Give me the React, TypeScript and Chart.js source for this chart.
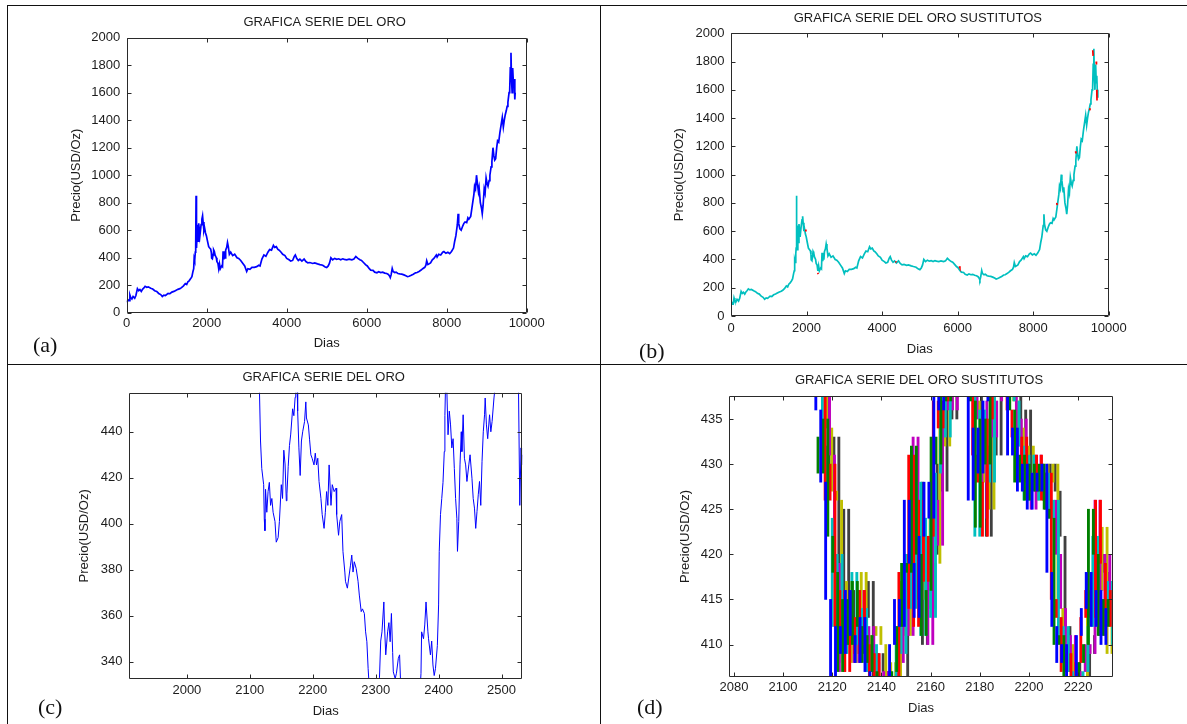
import React, { useEffect, useRef } from "react";
import { Chart, registerables } from "chart.js";

Chart.register(...registerables);

const PAGE_W = 1187;
const PAGE_H = 724;

// ---------- Full gold series (panels a, b) ----------
const fullDays = [
  0, 30, 60, 80, 100, 130, 160, 200, 230, 268, 300, 330, 364, 400, 430, 460, 500, 540, 600, 650,
  700, 750, 800, 850, 890, 930, 970, 1035, 1080, 1130, 1180, 1226, 1280, 1330, 1370, 1420, 1465, 1500, 1530, 1560,
  1600, 1630, 1657, 1675, 1686, 1700, 1715, 1725, 1734, 1740, 1750, 1770, 1790, 1800, 1830, 1860, 1880, 1897, 1910, 1930,
  1945, 1970, 1992, 2020, 2050, 2075, 2100, 2117, 2124, 2142, 2160, 2173, 2190, 2210, 2240, 2255, 2280, 2300, 2320, 2340,
  2375, 2395, 2410, 2430, 2440, 2459, 2474, 2500, 2520, 2540, 2567, 2600, 2650, 2700, 2758, 2800, 2850, 2900, 2950, 3000,
  3030, 3080, 3130, 3190, 3250, 3300, 3333, 3380, 3430, 3480, 3530, 3573, 3620, 3668, 3700, 3740, 3780, 3812, 3860, 3900,
  3956, 4000, 4060, 4100, 4148, 4190, 4215, 4250, 4290, 4330, 4380, 4435, 4480, 4530, 4580, 4650, 4700, 4770, 4830, 4900,
  4962, 5000, 5038, 5070, 5105, 5150, 5200, 5250, 5300, 5350, 5400, 5440, 5500, 5560, 5630, 5680, 5728, 5780, 5830, 5870,
  5920, 5970, 6015, 6060, 6100, 6158, 6200, 6255, 6300, 6350, 6400, 6450, 6500, 6542, 6570, 6590, 6610, 6638, 6660, 6700,
  6734, 6780, 6830, 6877, 6930, 6980, 7020, 7060, 7100, 7165, 7220, 7260, 7308, 7360, 7400, 7452, 7480, 7500, 7530, 7560,
  7596, 7640, 7680, 7740, 7760, 7800, 7850, 7900, 7930, 7980, 8030, 8075, 8120, 8170, 8200, 8230, 8266, 8285, 8300, 8330,
  8362, 8400, 8430, 8458, 8500, 8530, 8553, 8600, 8630, 8650, 8680, 8697, 8720, 8745, 8760, 8793, 8810, 8841, 8870, 8889,
  8910, 8937, 8960, 8985, 9010, 9033, 9060, 9080, 9110, 9130, 9157, 9180, 9200, 9224, 9250, 9272, 9300, 9330, 9368, 9390,
  9416, 9440, 9464, 9490, 9511, 9530, 9559, 9575, 9590, 9607, 9620, 9636, 9645, 9655, 9670, 9685, 9703, 9712,
];
const fullPrices = [
  75, 95, 88, 128, 110, 100, 118, 105, 125, 175, 160, 168, 155, 172, 180, 192, 185, 188, 178, 172,
  160, 155, 140, 132, 118, 128, 125, 140, 138, 150, 155, 162, 170, 175, 182, 195, 212, 205, 225, 232,
  248, 262, 300, 320, 395, 380, 440, 480, 850, 560, 470, 640, 520, 650, 560, 640, 680, 705, 660, 600,
  620, 580, 560, 520, 480, 470, 462, 436, 397, 392, 420, 457, 446, 418, 400, 372, 360, 320, 355, 320,
  340, 334, 447, 388, 447, 398, 455, 475, 510, 480, 425, 440, 415, 425, 400, 395, 380, 360, 340, 300,
  320, 315, 330, 330, 335, 345, 340, 390, 420, 410, 440, 460, 455, 490, 475, 480, 460, 455, 440, 425,
  415, 395, 385, 375, 380, 410, 420, 395, 380, 390, 375, 390, 372, 362, 365, 358, 362, 355, 350, 345,
  332, 328, 340, 360, 400, 385, 395, 388, 392, 385, 392, 388, 385, 390, 385, 390, 408, 395, 385, 380,
  365, 350, 340, 322, 310, 308, 295, 290, 298, 292, 295, 288, 285, 278, 268, 255, 275, 322, 300, 292,
  295, 285, 282, 280, 275, 268, 262, 265, 270, 280, 290, 292, 300, 310, 320, 330, 345, 378, 350, 355,
  362, 385, 395, 420, 405, 425, 420, 440, 445, 432, 440, 430, 445, 470, 520, 560, 640, 720, 650, 610,
  600, 630, 650, 660, 655, 690, 680, 700, 760, 800, 860, 920, 900, 1000, 960, 880, 910, 800, 760, 720,
  780, 900, 870, 980, 940, 920, 960, 1000, 1060, 1100, 1200, 1140, 1110, 1120, 1200, 1250, 1240, 1310, 1380, 1420,
  1350, 1400, 1440, 1470, 1500, 1530, 1600, 1620, 1780, 1890, 1700, 1600, 1720, 1780, 1650, 1700, 1550, 1600,
];
const fullXTicks = [0, 2000, 4000, 6000, 8000, 10000];
const fullYTicks = [0, 200, 400, 600, 800, 1000, 1200, 1400, 1600, 1800, 2000];

// Short surrogate pieces that show through in red on panel (b); null breaks the line
const redPieceDays = [1975, 1990, 1991, 2295, 2310, 2311, 4360, 4372, 4373, 6045, 6060, 6061, 8625, 8635, 8636, 9122, 9132, 9133, 9498, 9508, 9509, 9578, 9588, 9589, 9668, 9676, 9677, 9684, 9690];
const redPiecePrices = [612, 598, null, 305, 296, null, 388, 378, null, 352, 342, null, 800, 785, null, 1165, 1150, null, 1470, 1455, null, 1880, 1840, null, 1800, 1780, null, 1600, 1525];

// ---------- Zoomed gold series (panel c) ----------
const zoomDays = [
  1908, 1930, 1950, 1975, 2000, 2030, 2060, 2090, 2110, 2115, 2117, 2119, 2122, 2123, 2124, 2125, 2127, 2129, 2131, 2133,
  2135, 2137, 2140, 2142, 2145, 2147, 2150, 2152, 2154, 2156, 2158, 2159, 2161, 2163, 2165, 2168, 2170, 2172, 2173, 2175,
  2176, 2178, 2180, 2182, 2184, 2187, 2189, 2190, 2193, 2195, 2197, 2199, 2202, 2204, 2206, 2208, 2210, 2213, 2215, 2218,
  2220, 2222, 2224, 2226, 2229, 2231, 2234, 2237, 2238, 2241, 2243, 2246, 2248, 2251, 2252, 2255, 2257, 2260, 2262, 2264,
  2266, 2269, 2272, 2274, 2277, 2279, 2282, 2284, 2286, 2288, 2290, 2295, 2300, 2305, 2306, 2308, 2310, 2313, 2314, 2316,
  2319, 2321, 2323, 2325, 2327, 2328, 2331, 2333, 2336, 2338, 2340, 2350, 2360, 2370, 2372, 2373, 2376, 2378, 2380, 2383,
  2384, 2387, 2389, 2391, 2393, 2395, 2398, 2400, 2401, 2403, 2405, 2407, 2409, 2410, 2411, 2413, 2415, 2417, 2419, 2421,
  2423, 2425, 2427, 2429, 2430, 2432, 2434, 2436, 2437, 2439, 2441, 2443, 2445, 2448, 2450, 2453, 2455, 2457, 2459, 2461,
  2463, 2465, 2467, 2469, 2471, 2473, 2474, 2476, 2478, 2481, 2483, 2485, 2488, 2490, 2495, 2505, 2515, 2525, 2527, 2529,
  2531, 2532, 2533,
];
const zoomPrices = [
  700, 620, 640, 590, 560, 530, 500, 480, 470, 462, 436, 424, 417, 402, 397, 415, 405, 414, 418, 408,
  411, 405, 401, 392, 394, 401, 417, 411, 432, 426, 410, 413, 425, 434, 439, 450, 447, 455, 460, 462,
  449, 433, 421, 436, 440, 444.5, 453, 446, 443, 436.5, 430, 428.5, 425.6, 430.7, 425.6, 428.5, 418.4, 411, 404, 398,
  405, 414, 408, 425.6, 408, 417, 414, 415.5, 404, 395, 401, 404, 388, 379, 375, 372, 376, 382, 386.4, 379,
  383.5, 380.6, 375, 369, 361.8, 363, 361, 353, 348.7, 337, 328, 322, 318, 325, 333, 349, 353, 366, 356, 343,
  353, 357, 348.7, 361, 344, 335.6, 332.7, 335, 341.5, 343, 328, 320, 318, 325, 335, 353, 350, 356, 366, 353,
  350, 343, 349, 338.6, 334, 337, 347, 364.7, 388, 404, 411, 418, 431.4, 447, 460, 459, 438.7, 449, 443, 433,
  437, 424, 411, 402.4, 388, 401, 425.6, 440, 431.4, 447.4, 428.5, 425.6, 418.4, 425.6, 430, 419.8, 411, 406.8, 398, 405.3,
  412.6, 418.4, 408, 427, 440, 447.4, 454.7, 443, 437, 447.4, 440, 444.5, 454.7, 460, 470, 475, 468, 462, 458, 408,
  433, 425.6, 430,
];
const zoomXTicks = [2000, 2100, 2200, 2300, 2400, 2500];
const zoomYTicks = [340, 360, 380, 400, 420, 440];

// ---------- Surrogate series (panel d) ----------
const surDays = [
  2114, 2116, 2118, 2120, 2122, 2124, 2126, 2128, 2130, 2132, 2134, 2136, 2138, 2140, 2142, 2144, 2146, 2148, 2150, 2152,
  2154, 2156, 2158, 2160, 2162, 2164, 2166, 2168, 2170, 2172, 2174, 2176, 2178, 2180, 2182, 2184, 2186, 2188, 2190, 2192,
  2194, 2196, 2198, 2200, 2202, 2204, 2206, 2208, 2210, 2212, 2214, 2216, 2218, 2220, 2222, 2224, 2226, 2228, 2230, 2232,
  2234,
];
const surBlue = [445, 436, 428, 415, 406, 412, 409, 416, 411, 408, 413, 407, 405, 402, 398, 401, 410, 415, 412, 426, 419, 413, 422, 428, 424, 438, 436, 442, 446, 452, 449, 440, 426, 434, 429, 437, 441, 446, 444, 438, 431, 434, 427, 430, 425, 429, 427, 430, 418, 412, 408, 410, 403, 406, 411, 414, 418, 412, 416, 410, 414];
const surGreen = [433, 429, 435, 422, 418, 407, 415, 410, 417, 412, 408, 411, 407, 404, 401, 399, 407, 412, 419, 418, 432, 420, 411, 416, 433, 430, 441, 437, 449, 448, 451, 443, 437, 423, 435, 430, 438, 444, 446, 440, 436, 428, 431, 426, 430, 427, 430, 425, 424, 410, 411, 406, 404, 404, 408, 410, 425, 420, 411, 415, 412];
const surRed = [450, 442, 426, 430, 412, 416, 407, 413, 409, 416, 410, 406, 409, 401, 403, 404, 404, 418, 414, 431, 412, 426, 417, 422, 437, 434, 437, 444, 445, 450, 446, 438, 431, 428, 422, 435, 443, 447, 442, 436, 433, 430, 433, 428, 427, 431, 426, 429, 415, 413, 407, 409, 402, 408, 413, 416, 413, 426, 419, 412, 416];
const surCyan = [441, 432, 424, 412, 420, 409, 413, 418, 410, 414, 407, 410, 406, 405, 400, 402, 412, 409, 420, 414, 428, 411, 424, 413, 429, 440, 433, 439, 448, 447, 452, 444, 422, 436, 431, 428, 440, 443, 445, 439, 437, 432, 426, 431, 428, 426, 429, 424, 426, 411, 412, 407, 405, 405, 407, 412, 422, 415, 413, 417, 410];
const surMagenta = [448, 438, 431, 419, 407, 414, 411, 408, 416, 410, 412, 408, 404, 407, 397, 400, 408, 416, 411, 433, 422, 418, 410, 426, 421, 436, 440, 436, 444, 453, 448, 441, 435, 424, 437, 433, 437, 445, 447, 441, 430, 435, 429, 425, 431, 428, 427, 426, 420, 414, 409, 411, 401, 407, 410, 409, 426, 411, 420, 413, 415];
const surYellow = [452, 434, 427, 426, 414, 417, 408, 412, 418, 409, 411, 412, 410, 403, 408, 405, 417, 411, 417, 422, 415, 424, 414, 419, 435, 432, 438, 441, 447, 449, 450, 437, 428, 432, 425, 439, 442, 448, 443, 437, 434, 427, 432, 429, 426, 430, 428, 430, 414, 409, 410, 405, 404, 403, 414, 415, 416, 423, 409, 416, 413];
const surBlack = [444, 430, 433, 408, 425, 410, 416, 409, 413, 417, 406, 409, 407, 400, 402, 398, 406, 420, 415, 428, 410, 416, 420, 430, 427, 439, 435, 438, 450, 451, 447, 445, 433, 422, 436, 431, 439, 444, 446, 440, 432, 436, 428, 427, 429, 425, 430, 427, 422, 412, 407, 408, 403, 406, 409, 411, 420, 418, 415, 409, 417];
const surXTicks = [2080, 2100, 2120, 2140, 2160, 2180, 2200, 2220];
const surYTicks = [410, 415, 420, 425, 430, 435];

// ---------- helpers ----------
const FONT_FAMILY = '"Liberation Sans", Arial, Helvetica, sans-serif';
const TEXT_COLOR = "#1c1c1c";
const Y_AXIS_BOX = 60;
const X_AXIS_BOX = 30;

const toPoints = (xs: number[], ys: (number | null)[]) => xs.map((x, i) => ({ x, y: ys[i] }));

// vertical jump of a step plot: from the previous day's value to the current one
const toSteps = (xs: number[], ys: number[]) =>
  xs.slice(1).map((x, i) => ({ x, y: [ys[i], ys[i + 1]] }));

const framePlugin = {
  id: "matlabFrame",
  afterDatasetsDraw(chart: any, _args: any, opts: any) {
    const { ctx, chartArea: a } = chart;
    const xs = chart.scales.x;
    const ys = chart.scales.y;
    const l = Math.round(a.left) + 0.5;
    const r = Math.round(a.right) - 0.5;
    const t = Math.round(a.top) + 0.5;
    const b = Math.round(a.bottom) - 0.5;
    const tl = 4;
    ctx.save();
    ctx.strokeStyle = "#2a2a2a";
    ctx.lineWidth = 1;
    ctx.beginPath();
    ctx.rect(l, t, r - l, b - t);
    xs.ticks.forEach((tk: any) => {
      const px = Math.round(xs.getPixelForValue(tk.value)) + 0.5;
      ctx.moveTo(px, b);
      ctx.lineTo(px, b - tl);
      ctx.moveTo(px, t);
      ctx.lineTo(px, t + tl);
    });
    ys.ticks.forEach((tk: any) => {
      const py = Math.round(ys.getPixelForValue(tk.value)) + 0.5;
      ctx.moveTo(l, py);
      ctx.lineTo(l + tl, py);
      ctx.moveTo(r, py);
      ctx.lineTo(r - tl, py);
    });
    ctx.stroke();
    ctx.restore();
  },
  afterDraw(chart: any, _args: any, opts: any) {
    const { ctx, chartArea: a } = chart;
    const cx = (a.left + a.right) / 2;
    const cy = (a.top + a.bottom) / 2;
    ctx.save();
    ctx.fillStyle = TEXT_COLOR;
    ctx.font = `13px ${FONT_FAMILY}`;
    ctx.textAlign = "center";
    ctx.textBaseline = "middle";
    ctx.fillText(opts.title, cx + (opts.titleDX || 0), opts.titleY);
    ctx.fillText(opts.xlabel, cx, opts.xlabelY);
    ctx.translate(opts.ylabelX, cy);
    ctx.rotate(-Math.PI / 2);
    ctx.fillText(opts.ylabel, 0, 0);
    ctx.restore();
  },
};

type PanelSpec = {
  left: number;
  right: number;
  top: number;
  bottom: number;
  xMin: number;
  xMax: number;
  yMin: number;
  yMax: number;
  xTicks: number[];
  yTicks: number[];
  xPad: number;
  title: string;
  titleY: number;
  xlabelY: number;
  ylabelX: number;
  datasets: any[];
};

const MATLAB = {
  b: "#0000ff",
  g: "#008000",
  r: "#ff0000",
  c: "#00bfbf",
  m: "#bf00bf",
  y: "#bfbf00",
  k: "#404040",
};

const stepBars = (label: string, ys: number[], color: string) => ({
  type: "bar",
  label,
  data: toSteps(surDays, ys),
  backgroundColor: color,
  borderWidth: 0,
  barThickness: 2.2,
  grouped: true,
});

const lineSet = (label: string, pts: any[], color: string, width: number) => ({
  type: "line",
  label,
  data: pts,
  borderColor: color,
  borderWidth: width,
  pointRadius: 0,
  tension: 0,
  fill: false,
  spanGaps: false,
});

const panels: PanelSpec[] = [
  {
    left: 126.7, right: 526.7, top: 37.7, bottom: 312.7,
    xMin: 0, xMax: 10000, yMin: 0, yMax: 2000,
    xTicks: fullXTicks, yTicks: fullYTicks, xPad: 2.5,
    title: "GRAFICA SERIE DEL ORO", titleY: 22.5, xlabelY: 343.5, ylabelX: 76.6,
    datasets: [lineSet("Oro", toPoints(fullDays, fullPrices), MATLAB.b, 1.7)],
  },
  {
    left: 731, right: 1108.7, top: 33.3, bottom: 316,
    xMin: 0, xMax: 10000, yMin: 0, yMax: 2000,
    xTicks: fullXTicks, yTicks: fullYTicks, xPad: 4.5,
    title: "GRAFICA SERIE DEL ORO SUSTITUTOS", titleY: 18.3, xlabelY: 349, ylabelX: 679.7,
    datasets: [
      lineSet("Sustituto rojo", toPoints(redPieceDays, redPiecePrices), MATLAB.r, 1.7),
      lineSet("Sustitutos", toPoints(fullDays, fullPrices), MATLAB.c, 1.7),
    ],
  },
  {
    left: 129, right: 522.3, top: 392.7, bottom: 679,
    xMin: 1908, xMax: 2533, yMin: 332.5, yMax: 457,
    xTicks: zoomXTicks, yTicks: zoomYTicks, xPad: 3.2,
    title: "GRAFICA SERIE DEL ORO", titleY: 377.5, xlabelY: 711.7, ylabelX: 84,
    datasets: [lineSet("Oro", toPoints(zoomDays, zoomPrices), MATLAB.b, 1)],
  },
  {
    left: 729, right: 1113, top: 396, bottom: 677,
    xMin: 2078, xMax: 2234.2, yMin: 406.4, yMax: 437.55,
    xTicks: surXTicks, yTicks: surYTicks, xPad: 3,
    title: "GRAFICA SERIE DEL ORO SUSTITUTOS", titleY: 380.7, xlabelY: 708.3, ylabelX: 685.7,
    datasets: [
      stepBars("S1", surBlue, MATLAB.b),
      stepBars("S2", surGreen, MATLAB.g),
      stepBars("S3", surRed, MATLAB.r),
      stepBars("S4", surCyan, MATLAB.c),
      stepBars("S5", surMagenta, MATLAB.m),
      stepBars("S6", surYellow, MATLAB.y),
      stepBars("S7", surBlack, MATLAB.k),
    ],
  },
];

function Panel({ spec }: { spec: PanelSpec }) {
  const ref = useRef<HTMLCanvasElement | null>(null);
  useEffect(() => {
    if (!ref.current) return;
    const tickFont = { family: FONT_FAMILY, size: 13 };
    const chart = new Chart(ref.current, {
      type: "line",
      data: {
        datasets: spec.datasets.map((d) => ({ ...d, clip: 0 })),
      },
      options: {
        responsive: false,
        animation: false,
        devicePixelRatio: 1,
        events: [],
        layout: {
          padding: {
            left: spec.left - Y_AXIS_BOX,
            right: PAGE_W - spec.right,
            top: spec.top,
            bottom: PAGE_H - spec.bottom - X_AXIS_BOX,
          },
        },
        plugins: {
          legend: { display: false },
          tooltip: { enabled: false },
          title: { display: false },
          matlabFrame: {
            title: spec.title,
            titleY: spec.titleY,
            titleDX: -2,
            xlabel: "Dias",
            xlabelY: spec.xlabelY,
            ylabel: "Precio(USD/Oz)",
            ylabelX: spec.ylabelX,
          },
        } as any,
        scales: {
          x: {
            type: "linear",
            min: spec.xMin,
            max: spec.xMax,
            offset: false,
            afterFit: (s: any) => {
              s.height = X_AXIS_BOX;
            },
            afterBuildTicks: (s: any) => {
              s.ticks = spec.xTicks.map((v) => ({ value: v }));
            },
            grid: { display: false, drawTicks: false, offset: false },
            border: { display: false },
            ticks: {
              padding: spec.xPad,
              font: tickFont,
              color: TEXT_COLOR,
              maxRotation: 0,
              minRotation: 0,
              autoSkip: false,
              callback: (v: any) => String(v),
            },
          },
          y: {
            type: "linear",
            min: spec.yMin,
            max: spec.yMax,
            afterFit: (s: any) => {
              s.width = Y_AXIS_BOX;
            },
            afterBuildTicks: (s: any) => {
              s.ticks = spec.yTicks.map((v) => ({ value: v }));
            },
            grid: { display: false, drawTicks: false },
            border: { display: false },
            ticks: {
              padding: 6.5,
              font: tickFont,
              color: TEXT_COLOR,
              autoSkip: false,
              callback: (v: any) => String(v),
            },
          },
        },
      } as any,
      plugins: [framePlugin as any],
    });
    return () => chart.destroy();
  }, [spec]);
  return (
    <canvas
      ref={ref}
      width={PAGE_W}
      height={PAGE_H}
      style={{ position: "absolute", left: 0, top: 0, width: PAGE_W, height: PAGE_H }}
    />
  );
}

const labelStyle = (left: number, top: number): React.CSSProperties => ({
  position: "absolute",
  left,
  top,
  fontFamily: '"Liberation Serif", "Times New Roman", serif',
  fontSize: 22,
  lineHeight: "22px",
  color: "#111",
  whiteSpace: "nowrap",
});

const lineStyle = (left: number, top: number, width: number, height: number): React.CSSProperties => ({
  position: "absolute",
  left,
  top,
  width,
  height,
  background: "#111",
});

export default function App() {
  return (
    <div
      style={{
        position: "absolute",
        left: 0,
        top: 0,
        width: PAGE_W,
        height: PAGE_H,
        background: "#fff",
        overflow: "hidden",
      }}
    >
      <div style={lineStyle(7, 5, 1180, 1)} />
      <div style={lineStyle(7, 5, 1, 719)} />
      <div style={lineStyle(600, 5, 1, 719)} />
      <div style={lineStyle(7, 364, 1180, 1)} />
      {panels.map((p, i) => (
        <Panel key={i} spec={p} />
      ))}
      <div style={labelStyle(33, 334)}>(a)</div>
      <div style={labelStyle(639, 340)}>(b)</div>
      <div style={labelStyle(38, 696)}>(c)</div>
      <div style={labelStyle(637, 696)}>(d)</div>
    </div>
  );
}
